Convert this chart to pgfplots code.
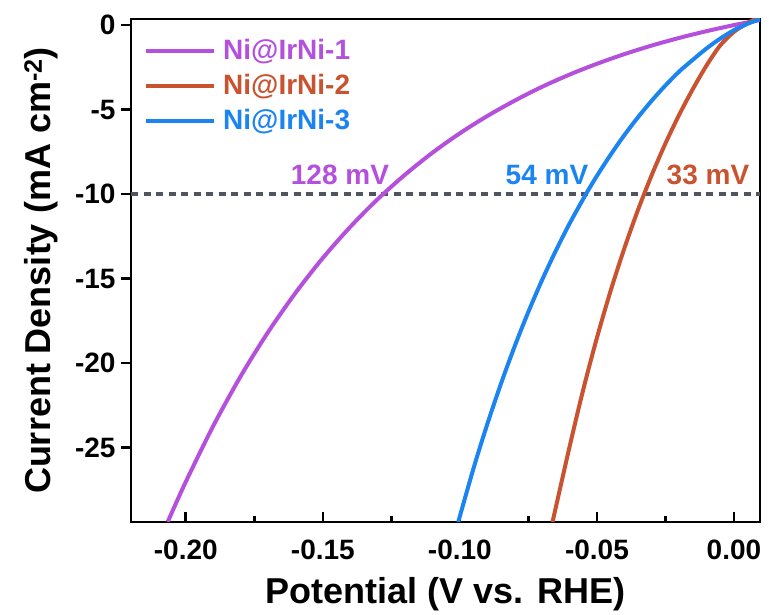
\documentclass[border=0pt]{standalone}
\usepackage{fontspec}
\setmainfont{Liberation Sans}
\usepackage{pgfplots}
\pgfplotsset{compat=1.18}
\definecolor{cpur}{RGB}{180,80,220}
\definecolor{cred}{RGB}{201,83,48}
\definecolor{cblu}{RGB}{27,132,240}
\definecolor{cdash}{RGB}{80,84,94}
\newcommand{\tfont}{\bfseries\fontsize{28bp}{33bp}\selectfont}
\newcommand{\lfont}{\bfseries\fontsize{36bp}{42bp}\selectfont}
\begin{document}
\begin{tikzpicture}
\useasboundingbox (0,0) rectangle (769bp,615bp);
\begin{axis}[
  at={(131bp,93bp)}, anchor=south west,
  width=629bp, height=503bp, scale only axis,
  xmin=-0.22, xmax=0.0095, ymin=-29.4, ymax=0.36,
  xtick={-0.20,-0.15,-0.10,-0.05,0},
  minor xtick={-0.175,-0.125,-0.075,-0.025},
  ytick={-25,-20,-15,-10,-5,0},
  xtick pos=bottom, ytick pos=left,
  xtick align=inside, ytick align=outside,
  major tick length=10bp, minor tick length=6bp,
  tick style={black, line width=2.7bp},
  minor tick style={black, line width=2.7bp},
  axis line style={line width=2.8bp},
  tick label style={font=\tfont},
  /pgf/number format/assume math mode=true,
  xticklabel style={/pgf/number format/.cd, fixed, fixed zerofill, precision=2, /tikz/.cd, yshift=-14bp},
  yticklabel style={xshift=-2bp},
  xlabel={Potential (V vs. RHE)},
  ylabel={Current Density (mA cm\textsuperscript{-2})},
  label style={font=\lfont},
  xlabel style={at={(axis description cs:0.5,0)}, anchor=base, yshift=-81bp},
  ylabel style={at={(axis description cs:-0.1272,0.5)}, anchor=base},
  legend style={at={(0.0207,0.9483)}, anchor=north west, draw=none, fill=none,
    inner sep=0pt, row sep=15bp, column sep=7bp, font=\tfont,
    nodes={inner sep=0pt, text height=20bp, text depth=0bp}},
  legend cell align=left,
  legend image code/.code={\draw[#1] (0bp,4bp) -- (68bp,4bp);},
]
\addplot[cdash, line width=3.5bp, dash pattern=on 7bp off 5.5bp, forget plot] coordinates {(-0.22,-10) (0.0095,-10)};
\addplot[cpur, line width=4bp, smooth] coordinates {
(-0.2066,-29.39) (-0.200,-27.02) (-0.190,-23.72) (-0.180,-20.78) (-0.170,-18.17)
(-0.160,-15.85) (-0.150,-13.78) (-0.140,-11.94) (-0.130,-10.30) (-0.120,-8.85)
(-0.110,-7.55) (-0.100,-6.40) (-0.090,-5.38) (-0.080,-4.47) (-0.070,-3.65)
(-0.060,-2.93) (-0.050,-2.29) (-0.040,-1.72) (-0.030,-1.21) (-0.020,-0.76)
(-0.010,-0.36) (0.000,0.00) (0.0095,0.30)};
\addlegendentry{\raisebox{6bp}{\textcolor{cpur}{Ni@IrNi-1}}}
\addplot[cred, line width=4bp, smooth] coordinates {
(-0.0662,-29.4) (-0.060,-24.96) (-0.055,-21.57) (-0.050,-18.50) (-0.045,-15.72)
(-0.040,-13.21) (-0.035,-10.93) (-0.030,-8.87) (-0.025,-7.00) (-0.020,-5.31)
(-0.015,-3.78) (-0.010,-2.39) (-0.005,-1.20) (0.000,-0.40) (0.004,0.02) (0.008,0.40)};
\addlegendentry{\raisebox{6bp}{\textcolor{cred}{Ni@IrNi-2}}}
\addplot[cblu, line width=4bp, smooth] coordinates {
(-0.1006,-29.4) (-0.095,-26.21) (-0.090,-23.61) (-0.085,-21.21) (-0.080,-19.00)
(-0.075,-16.96) (-0.070,-15.08) (-0.065,-13.35) (-0.060,-11.75) (-0.054,-10.0)
(-0.050,-8.92) (-0.045,-7.67) (-0.040,-6.51) (-0.035,-5.45) (-0.030,-4.47)
(-0.025,-3.57) (-0.020,-2.75) (-0.015,-2.05) (-0.010,-1.38) (-0.005,-0.80)
(0.000,-0.30) (0.005,0.08) (0.0095,0.35)};
\addlegendentry{\raisebox{6bp}{\textcolor{cblu}{Ni@IrNi-3}}}
\node[font=\tfont, text=cpur, anchor=base east, inner sep=0pt] at (axis cs:-0.1258,-9.45) {128 mV};
\node[font=\tfont, text=cblu, anchor=base east, inner sep=0pt] at (axis cs:-0.0531,-9.45) {54 mV};
\node[font=\tfont, text=cred, anchor=base west, inner sep=0pt] at (axis cs:-0.0246,-9.45) {33 mV};
\end{axis}
\end{tikzpicture}
\end{document}
